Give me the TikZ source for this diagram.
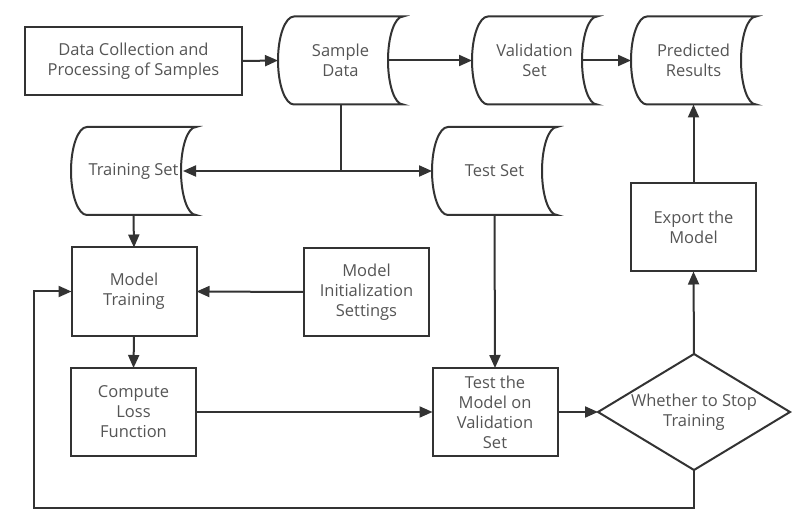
\documentclass[tikz,border=0pt]{standalone}
\usepackage{fontspec}
\setmainfont{Open Sans}
\usetikzlibrary{arrows.meta,shapes.geometric,calc}
\definecolor{linec}{HTML}{333333}
\definecolor{txtc}{HTML}{555555}
\newcommand{\storeoutline}[1]{\draw[plainline] ([xshift=16pt]#1.north west) arc[start angle=90,end angle=270,x radius=16pt,y radius=44pt] -- (#1.south east) arc[start angle=270,end angle=90,x radius=15pt,y radius=44pt] -- cycle;}
\begin{document}
\begin{tikzpicture}[x=1pt,y=1pt,
 base/.style={inner sep=0pt,outer sep=0pt,align=center,text=txtc,font=\fontsize{16.5}{20}\selectfont},
 box/.style={base,draw=linec,line width=2pt,minimum width=125pt,minimum height=88pt},
 store/.style={base,minimum width=125pt,minimum height=88pt},
 decision/.style={inner sep=0pt,outer sep=0pt,draw=linec,line width=2pt,diamond,aspect=1.655,minimum width=192pt,minimum height=116pt},
 conn/.style={draw=linec,line width=2pt,-{Triangle[length=13pt,width=11pt]}},
 plainline/.style={draw=linec,line width=2pt}]
\useasboundingbox[fill=white] (0,0) rectangle (809,531);
% nodes
\node[box,minimum width=217pt,minimum height=68pt] (dc) at (133.5,470) {Data Collection and\\Processing of Samples};
\node[store] (sd) at (340.5,470.5) {Sample\\Data};
\node[store] (vs) at (534.5,470.5) {Validation\\Set};
\node[store] (pr) at (693.5,470.5) {Predicted\\Results};
\node[store] (ts) at (133.5,360) {Training Set};
\node[store] (test) at (494.5,360) {Test Set};
\node[box] (mt) at (134,239.5) {Model\\Training};
\node[box] (mi) at (366.5,239) {Model\\Initialization\\Settings};
\node[box] (cl) at (133.5,119) {Compute\\Loss\\Function};
\node[box] (tm) at (495,119) {Test the\\Model on\\Validation\\Set};
\node[box] (ex) at (693.5,303.5) {Export the\\Model};
\node[decision] (dm) at (694,119) {};
\node[base] (dmtext) at (dm.center) {Whether to Stop\\Training};
\storeoutline{sd}
\storeoutline{vs}
\storeoutline{pr}
\storeoutline{ts}
\storeoutline{test}
% connectors
\draw[conn] (dc.east) -- (sd.west);
\draw[conn] ([xshift=-15pt]sd.east) -- (vs.west);
\draw[conn] ([xshift=-15pt]vs.east) -- (pr.west);
\coordinate (j) at (sd.south |- ts.east);
\draw[plainline] (sd.south) -- (j);
\draw[conn] (j) -- ([xshift=-13pt]ts.east);
\draw[conn] (j) -- (test.west);
\draw[conn] (ts.south) -- (mt.north);
\draw[conn] (mi.west) -- (mt.east);
\draw[conn] (mt.south) -- (cl.north);
\draw[conn] (cl.east) -- (tm.west);
\draw[conn] (test.south) -- (tm.north);
\draw[conn] (tm.east) -- (dm.west);
\draw[conn] (dm.north) -- (ex.south);
\draw[conn] (ex.north) -- (pr.south);
\coordinate (lb) at (34,23);
\draw[conn] (dm.south) |- (lb) |- (mt.west);
\end{tikzpicture}
\end{document}
